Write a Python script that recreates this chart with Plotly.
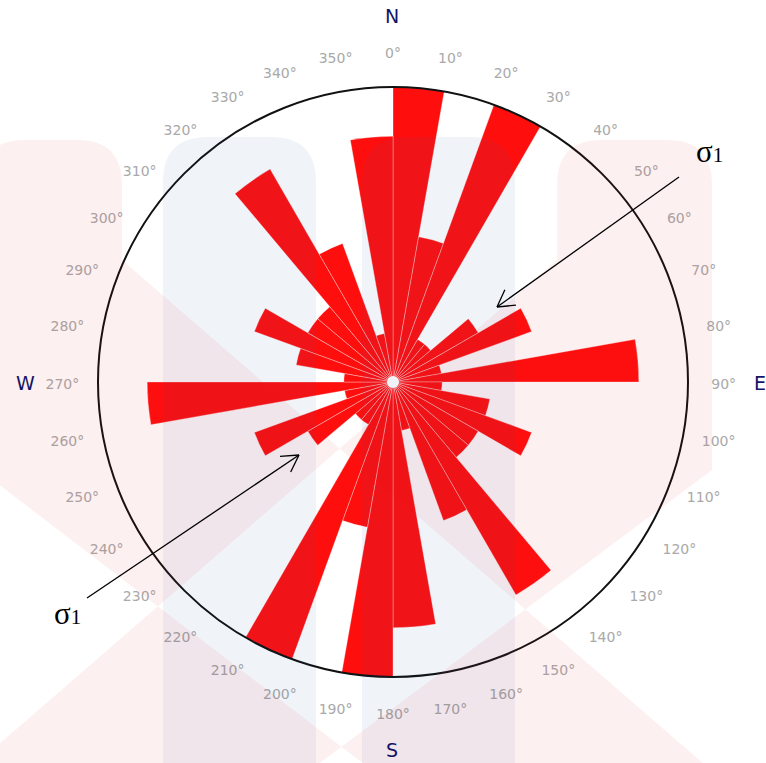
import math
import plotly.graph_objects as go

# Rose diagram: number of measurements in each 10-degree direction bin
bin_start = [0, 10, 20, 30, 40, 50, 60, 70, 80, 90, 100, 110, 120, 130, 140, 150, 160, 170,
             180, 190, 200, 210, 220, 230, 240, 250, 260, 270, 280, 290, 300, 310, 320, 330, 340, 350]
counts = [6, 3, 6, 1, 1, 2, 3, 1, 5, 1, 2, 3, 2, 2, 5, 3, 1, 5,
          6, 3, 6, 1, 1, 2, 3, 1, 5, 1, 2, 3, 2, 2, 5, 3, 1, 5]
bin_width = 10
r_max = 6                       # outer rim of the diagram

tick_vals = [0, 10, 20, 30, 40, 50, 60, 70, 80, 90, 100, 110, 120, 130, 140, 150, 160, 170,
             180, 190, 200, 210, 220, 230, 240, 250, 260, 270, 280, 290, 300, 310, 320, 330, 340, 350]
tick_text = [f"{v}°" for v in tick_vals]

compass_labels = ["N", "E", "S", "W"]
stress_label = "σ<span style='font-size:21px'>1</span>"

W, H = 766, 763
CX, CY = 393, 382               # centre of the rose, pixels
RIM_PX = 295                    # rim radius, pixels
LABEL_CY = 385                  # centre of the ring of degree labels, pixels
LABEL_PX = 331                  # radius of the ring of degree labels, pixels


def px(x, y):
    """pixel position (origin top-left) -> paper coordinates"""
    return x / W, 1 - y / H


def path_from_px(cmds, close=True):
    out = []
    for c in cmds:
        op, pts = c[0], c[1:]
        coords = []
        for i in range(0, len(pts), 2):
            a, b = px(pts[i], pts[i + 1])
            coords.append(f"{a:.4f},{b:.4f}")
        out.append(op + " ".join(coords))
    return " ".join(out) + (" Z" if close else "")


def rounded_top(x0, x1, ytop, ybot, rad):
    return path_from_px([
        ("M", x0, ybot), ("L", x0, ytop + rad), ("Q", x0, ytop, x0 + rad, ytop),
        ("L", x1 - rad, ytop), ("Q", x1, ytop, x1, ytop + rad), ("L", x1, ybot),
    ])


fig = go.Figure()

fig.add_trace(go.Barpolar(
    r=counts,
    theta=[b + bin_width / 2 for b in bin_start],
    width=[bin_width] * len(bin_start),
    marker=dict(color="#ff0e0e", line=dict(color="rgba(255,255,255,0.55)", width=0.6)),
    hoverinfo="skip",
    showlegend=False,
))

# small white hub in the middle
fig.add_trace(go.Scatterpolar(
    r=[0], theta=[0], mode="markers",
    marker=dict(color="white", size=12, line=dict(width=0)),
    hoverinfo="skip", showlegend=False,
))

# degree labels on their own ring just outside the rim
fig.add_trace(go.Scatterpolar(
    r=[0.999] * len(tick_vals), theta=tick_vals, text=tick_text,
    mode="text", textposition="middle center", cliponaxis=False,
    textfont=dict(family="DejaVu Sans", size=14, color="#a9a9a9"),
    hoverinfo="skip", showlegend=False, subplot="polar2",
))

# faint logo watermark laid over the chart
blue = "rgb(30,90,160)"
red = "rgb(225,30,30)"
shapes = []
for x0, x1 in [(163, 316), (362, 515)]:
    shapes.append(dict(type="path", path=rounded_top(x0, x1, 137, 770, 45),
                       fillcolor=blue, opacity=0.065, line=dict(width=0)))
left_arm = path_from_px([("M", -20, 470), ("L", -20, 185), ("Q", -20, 140, 25, 140),
                         ("L", 77, 140), ("Q", 122, 140, 122, 185), ("L", 122, 260),
                         ("L", 780, 830), ("L", 450, 830)])
right_arm = path_from_px([("M", 557, 260), ("L", 557, 185), ("Q", 557, 140, 602, 140),
                          ("L", 667, 140), ("Q", 712, 140, 712, 185), ("L", 712, 470),
                          ("L", 230, 830), ("L", -100, 830)])
shapes.append(dict(type="path", path=left_arm + " " + right_arm,
                   fillcolor=red, opacity=0.065, line=dict(width=0)))

# stress arrows (tail -> tip, in pixels)
arrows = [((679, 177), (497, 307)), ((87, 598), (299, 455))]
for (tx, ty), (hx, hy) in arrows:
    x0, y0 = px(tx, ty)
    x1, y1 = px(hx, hy)
    shapes.append(dict(type="line", x0=x0, y0=y0, x1=x1, y1=y1,
                       line=dict(color="black", width=1.3)))
    ang = math.atan2(ty - hy, tx - hx)
    for da in (math.radians(30), -math.radians(30)):
        bx, by = px(hx + 19 * math.cos(ang + da), hy + 19 * math.sin(ang + da))
        shapes.append(dict(type="line", x0=x1, y0=y1, x1=bx, y1=by,
                           line=dict(color="black", width=1.3)))
for s in shapes:
    s["xref"] = "paper"
    s["yref"] = "paper"
    s["layer"] = "above"

annotations = []
compass_pos = [(392, 16, "center"), (752, 383, "left"), (392, 750, "center"), (25, 383, "center")]
for lab, (x, y, anchor) in zip(compass_labels, compass_pos):
    ax_, ay_ = px(x, y)
    annotations.append(dict(text=lab, x=ax_, y=ay_, xref="paper", yref="paper",
                            xanchor=anchor, yanchor="middle", showarrow=False,
                            font=dict(family="DejaVu Sans", size=19, color="#141466")))
for (x, y) in [(709, 152), (67, 613)]:
    ax_, ay_ = px(x, y)
    annotations.append(dict(text=stress_label, x=ax_, y=ay_, xref="paper", yref="paper",
                            xanchor="center", yanchor="middle", showarrow=False,
                            font=dict(family="Liberation Serif", size=31, color="black")))

dx0, dy0 = px(CX - RIM_PX, CY + RIM_PX)
dx1, dy1 = px(CX + RIM_PX, CY - RIM_PX)
lx0, ly0 = px(CX - LABEL_PX, LABEL_CY + LABEL_PX)
lx1, ly1 = px(CX + LABEL_PX, LABEL_CY - LABEL_PX)

hidden_angular = dict(rotation=90, direction="clockwise", tickmode="array", tickvals=tick_vals,
                      showticklabels=False, ticks="", showgrid=False)

fig.update_layout(
    width=W, height=H,
    margin=dict(l=0, r=0, t=0, b=0),
    paper_bgcolor="white",
    plot_bgcolor="white",
    polar=dict(
        domain=dict(x=[dx0, dx1], y=[dy0, dy1]),
        bgcolor="rgba(0,0,0,0)",
        radialaxis=dict(range=[0, r_max], visible=False),
        angularaxis=dict(hidden_angular, showline=True, linecolor="#111111", linewidth=2),
    ),
    polar2=dict(
        domain=dict(x=[lx0, lx1], y=[ly0, ly1]),
        bgcolor="rgba(0,0,0,0)",
        radialaxis=dict(range=[0, 1], visible=False),
        angularaxis=dict(hidden_angular, showline=False),
    ),
    shapes=shapes,
    annotations=annotations,
)

fig.write_html("out.html")
